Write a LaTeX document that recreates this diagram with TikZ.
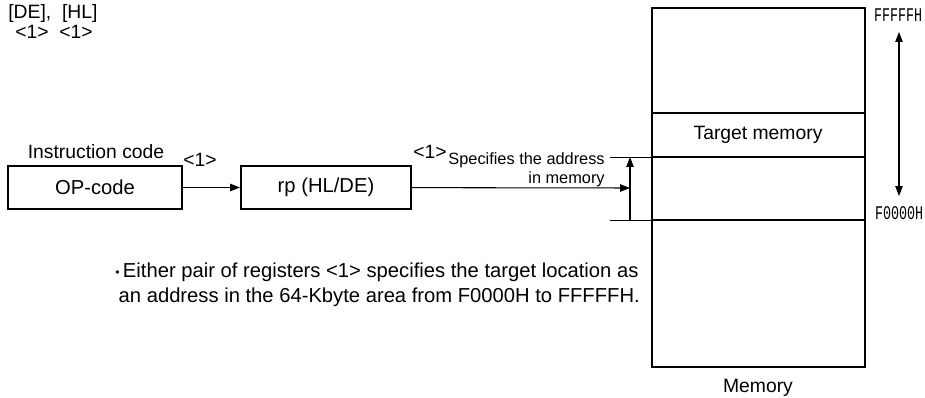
\documentclass[tikz,border=0pt]{standalone}
\usepackage{fontspec}
\setmainfont{Liberation Sans}
\newfontfamily\addrfont{Liberation Mono}
\newcommand{\addrtext}[1]{\scalebox{0.69}[1]{#1}}
\usetikzlibrary{arrows.meta, positioning}

\begin{document}
\begin{tikzpicture}[x=0.02cm, y=-0.02cm,
    box/.style={draw, line width=1.1pt, minimum height=0.86cm, inner sep=0pt, font=\fontsize{11.5}{13}\selectfont},
    arrow/.style={-{Triangle[length=2mm, width=1.5mm]}, line width=0.6pt},
    lbl/.style={font=\fontsize{11}{13}\selectfont, inner sep=0pt},
    small/.style={font=\fontsize{9.3}{11}\selectfont, inner sep=0pt},
    addr/.style={font=\addrfont\fontsize{11}{12}\selectfont, inner sep=0pt},
    tick/.style={line width=0.5pt}
]
\useasboundingbox (0,0) rectangle (925,398);

% --- Register pair ---
\node[lbl, anchor=west] (regs) at (8,14) {[DE],\ \ [HL]};
\node[lbl, anchor=west] (regnum) at (15,32) {<1>\ \ <1>};

% --- Instruction code ---
\node[lbl] (title) at (96,152) {Instruction code};
\node[box, minimum width=3.48cm] (opcode) at (95,187.5) {OP-code};
\node[box, minimum width=3.4cm] (rp) at (326,187.5) {rp (HL/DE)};
\draw[arrow] (opcode) -- (rp);
\node[lbl] (n1) at (200,160) {<1>};

% --- Memory ---
\node[draw, line width=1.1pt, inner sep=0pt, minimum width=4.26cm, minimum height=7.18cm] (mem) at (758.5,187.5) {};
\draw[line width=1.1pt] (mem.west |- 0,113) -- (mem.east |- 0,113);
\draw[line width=1.1pt] (mem.west |- 0,157) -- (mem.east |- 0,157);
\draw[line width=1.1pt] (mem.west |- 0,220) -- (mem.east |- 0,220);
\node[lbl] (target) at (758,135) {Target memory};
\node[lbl] (memname) at (758,388) {Memory};

% --- Address pointer ---
\coordinate (hit) at (630,188);
\coordinate (lo) at (630,220);
\coordinate (hi) at (630,157);
\draw[arrow] (rp) -- (hit);
\draw[arrow] (lo) -- (hi);
\draw[tick] (610,157) -- (mem.west |- hi);
\draw[tick] (610,220) -- (mem.west |- lo);
\node[lbl] (n2) at (430,152) {<1>};
\node[small, anchor=east, align=right] (spec) at (605,169.5) {Specifies the address\\in memory};

% --- Address range ---
\coordinate (rtop) at (899,32);
\coordinate (rbot) at (899,196);
\draw[{Triangle[length=2mm, width=1.5mm]}-{Triangle[length=2mm, width=1.5mm]}, line width=0.6pt] (rtop) -- (rbot);
\node[addr] (ftop) at (898,15) {\addrtext{FFFFFH}};
\node[addr] (fbot) at (899,213) {\addrtext{F0000H}};

% --- Note ---
\node[lbl, font=\fontsize{11.5}{13.5}\selectfont, anchor=north west, align=left] (note) at (115,263) {\raisebox{0.12ex}{\scalebox{0.6}{\textbullet}}\,Either pair of registers <1> specifies the target location as\\[0.5pt]\,an address in the 64-Kbyte area from F0000H to FFFFFH.};

\end{tikzpicture}
\end{document}
